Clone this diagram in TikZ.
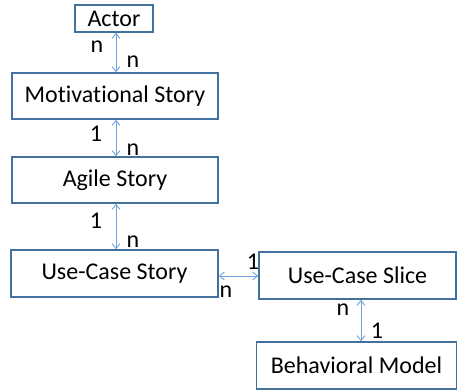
\documentclass[tikz,border=0pt]{standalone}
\usepackage{fontspec}
\setmainfont{Carlito}[Ligatures=NoCommon]
\usetikzlibrary{arrows.meta}
\definecolor{boxblue}{HTML}{41719C}
\definecolor{arrblue}{HTML}{6FA3D8}
\begin{document}
\begin{tikzpicture}[x=1pt,y=-1pt,
  box/.style={draw=boxblue,line width=1.4pt,inner sep=0pt,font=\fontsize{24}{28}\selectfont,fill=white},
  arr/.style={draw=arrblue,line width=0.9pt,{Straight Barb[length=5pt,width=8pt]}-{Straight Barb[length=5pt,width=8pt]}},
  lab/.style={inner sep=0pt,anchor=base,font=\fontsize{24}{28}\selectfont}]
\useasboundingbox (0,0) rectangle (458,391);
\node[box,minimum width=78pt,minimum height=27pt] (actor) at (114,18.5) {Actor};
\node[box,minimum width=206pt,minimum height=46pt] (mot) at (115,96) {Motivational Story};
\node[box,minimum width=206pt,minimum height=46pt] (agile) at (115,180) {Agile Story};
\node[box,minimum width=207pt,minimum height=47pt] (ucs) at (114.5,273.5) {Use-Case Story};
\node[box,minimum width=197pt,minimum height=47pt] (slice) at (357.5,275.5) {Use-Case Slice};
\node[box,minimum width=200pt,minimum height=47pt] (beh) at (356.5,365.5) {Behavioral Model};
\draw[arr] ([xshift=2pt]actor.south) -- ([xshift=1pt]mot.north);
\draw[arr] ([xshift=1pt]mot.south) -- ([xshift=1pt]agile.north);
\draw[arr] ([xshift=1pt]agile.south) -- ([xshift=1.5pt]ucs.north);
\draw[arr] ([yshift=-2.5pt]ucs.east) -- ([yshift=-0.5pt]slice.west);
\draw[arr] ([xshift=3.5pt]slice.south) -- ([xshift=4.5pt]beh.north);
\node[lab] (l1) at (97,52) {n};
\node[lab] (l2) at (133,67) {n};
\node[lab] (l3) at (96,141) {1};
\node[lab] (l4) at (133,155) {n};
\node[lab] (l5) at (96,228) {1};
\node[lab] (l6) at (133,247) {n};
\node[lab] (l7) at (253,269) {1};
\node[lab] (l8) at (226,297) {n};
\node[lab] (l9) at (343,315) {n};
\node[lab] (l10) at (377,338) {1};
\end{tikzpicture}
\end{document}
